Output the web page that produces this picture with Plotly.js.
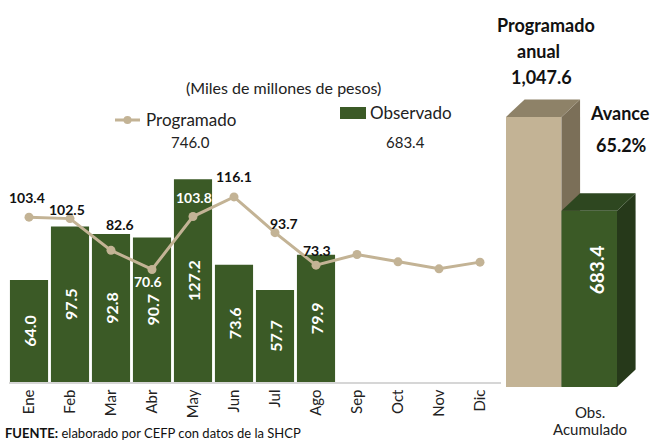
<!DOCTYPE html>
<html><head><meta charset="utf-8">
<script src="https://cdn.plot.ly/plotly-3.0.1.min.js"></script>
<style>html,body{margin:0;padding:0;background:#fff}#c{width:659px;height:442px}</style>
</head><body><div id="c"></div>
<script>
// ---- data ----
const months = ["Ene","Feb","Mar","Abr","May","Jun","Jul","Ago","Sep","Oct","Nov","Dic"];
const observado = [64.0, 97.5, 92.8, 90.7, 127.2, 73.6, 57.7, 79.9];
const programado = [103.4, 102.5, 82.6, 70.6, 103.8, 116.1, 93.7, 73.3, 80.0, 75.4, 71.0, 75.2];
const progLabels = ["103.4","102.5","82.6","70.6","103.8","116.1","93.7","73.3"];
const accumCats = ["Programado anual", "Obs. Acumulado"];
const accumValues = [1047.6, 683.4];
const progAccumText = "746.0";
const obsAccumText = "683.4";
const avanceText = "65.2%";

// ---- style ----
const W = 659, H = 442;
const px = x => x / W, py = y => 1 - y / H;
const GREEN = "#3B5A26", TAN = "#C3B395";
const BOLDN = "Liberation Sans Narrow, Lato, sans-serif";
const GEO = "Lato, 'Open Sans', sans-serif";
// label offsets (pixels) for the Programado labels
const lblDy = [20, 9, 26, -12, 19, 20, 9, 15];
const lblDx = [-2, -3, 9, -4, 1, 0, 9, 1];
const lblCol = ["#111","#111","#111","#fff","#fff","#111","#111","#111"];

const traces = [];
traces.push({
  type: "bar", x: months.slice(0, observado.length), y: observado, xaxis: "x", yaxis: "y",
  marker: {color: GREEN}, text: observado.map(v => v.toFixed(1)), textposition: "inside",
  insidetextanchor: "middle", textangle: -90,
  textfont: {family: BOLDN, size: 16, color: "#fff", weight: "bold"}, hoverinfo: "skip"
});
traces.push({
  type: "scatter", mode: "lines+markers", x: months, y: programado, xaxis: "x", yaxis: "y",
  line: {color: TAN, width: 3}, marker: {color: TAN, size: 9}, hoverinfo: "skip"
});

// 3D accumulated bars on x2/y2
const dx = 0.335, dy = 68;
const faces = [["#C3B395", "#7B6F58", "#8E8268"], ["#3B5A26", "#26391A", "#2E4720"]];
accumValues.forEach((v, i) => {
  const l = i - 0.5, r = i + 0.5;
  const polys = [
    [[l, r, r, l, l], [0, 0, v, v, 0]],
    [[r, r + dx, r + dx, r, r], [0, dy, v + dy, v, 0]],
    [[l, l + dx, r + dx, r, l], [v, v + dy, v + dy, v, v]]
  ];
  polys.forEach((p, k) => traces.push({
    type: "scatter", mode: "lines", x: p[0], y: p[1], xaxis: "x2", yaxis: "y2",
    fill: "toself", fillcolor: faces[i][k], line: {width: 0, color: faces[i][k]}, hoverinfo: "skip"
  }));
});

const ann = [];
progLabels.forEach((t, i) => ann.push({
  x: months[i], y: programado[i], xref: "x", yref: "y", text: "<b>" + t + "</b>", showarrow: false,
  xanchor: "center", yanchor: "middle",
  yshift: lblDy[i], xshift: lblDx[i], font: {family: BOLDN, size: 14, color: lblCol[i]}
}));
ann.push({x: 1, y: accumValues[1] / 2, xref: "x2", yref: "y2", text: "<b>" + accumValues[1].toFixed(1) + "</b>",
  xanchor: "center", yanchor: "middle",
  textangle: -90, showarrow: false, xshift: 8, yshift: 29, font: {family: BOLDN, size: 19, color: "#fff"}});
function pa(x, y, text, size, opts) {
  return Object.assign({x: px(x), y: py(y), xref: "paper", yref: "paper", showarrow: false,
    xanchor: "center", yanchor: "middle", align: "center", text: text,
    font: {family: GEO, size: size, color: "#222"}}, opts || {});
}
ann.push(pa(546, 25, "<b>Programado</b>", 18, {font: {family: GEO, size: 18, color: "#111"}}));
ann.push(pa(538, 51, "<b>anual</b>", 18, {font: {family: GEO, size: 18, color: "#111"}}));
ann.push(pa(541, 77, "<b>" + accumValues[0].toLocaleString("en-US", {minimumFractionDigits: 1}) + "</b>", 18,
  {font: {family: GEO, size: 18, color: "#111"}}));
ann.push(pa(620, 113, "<b>Avance</b>", 18, {font: {family: GEO, size: 18, color: "#111"}}));
ann.push(pa(621, 145, "<b>" + avanceText + "</b>", 18, {font: {family: GEO, size: 18, color: "#111"}}));
ann.push(pa(590, 412, "Obs.", 15));
ann.push(pa(590, 429, "Acumulado", 15));
ann.push(pa(283, 88, "(Miles de millones de pesos)", 16));
ann.push(pa(144, 120, "Programado", 17, {xanchor: "left"}));
ann.push(pa(190, 142, progAccumText, 15));
ann.push(pa(368, 113, "Observado", 17, {xanchor: "left"}));
ann.push(pa(405, 142, obsAccumText, 15));
ann.push(pa(3, 433, "<b>FUENTE:</b> elaborado por CEFP con datos de la SHCP", 13,
  {xanchor: "left", font: {family: GEO, size: 13, color: "#111"}}));

const shapes = [
  {type: "line", xref: "paper", yref: "paper", x0: px(115), x1: px(140), y0: py(120), y1: py(120), line: {color: TAN, width: 3}},
  {type: "circle", xref: "paper", yref: "paper", x0: px(123.5), x1: px(131.5), y0: py(116), y1: py(124), fillcolor: TAN, line: {width: 0}},
  {type: "rect", xref: "paper", yref: "paper", x0: px(340), x1: px(366), y0: py(107), y1: py(119), fillcolor: GREEN, line: {width: 0}}
];

const layout = {
  width: W, height: H, margin: {l: 0, r: 0, t: 0, b: 0}, showlegend: false,
  paper_bgcolor: "#fff", plot_bgcolor: "rgba(0,0,0,0)", bargap: 0.07,
  font: {family: GEO, color: "#222"},
  xaxis: {domain: [px(8.5), px(500.5)], type: "category", categoryarray: months, range: [-0.5, 11.5],
    tickangle: -90, tickfont: {family: GEO, size: 15, color: "#222"}, showline: true, linecolor: "#d6d6d6",
    linewidth: 1.5, showgrid: false, zeroline: false, ticks: "", fixedrange: true},
  yaxis: {domain: [60 / H, 1], range: [0, 382 / 1.594], visible: false, fixedrange: true},
  xaxis2: {domain: [px(506), px(644.75)], range: [-0.5, 2.0], visible: false, anchor: "y2"},
  yaxis2: {domain: [55 / H, 1], range: [0, 387 * 1047.6 / 270], visible: false, anchor: "x2"},
  annotations: ann, shapes: shapes
};
Plotly.newPlot("c", traces, layout, {displayModeBar: false, staticPlot: true});
</script></body></html>
